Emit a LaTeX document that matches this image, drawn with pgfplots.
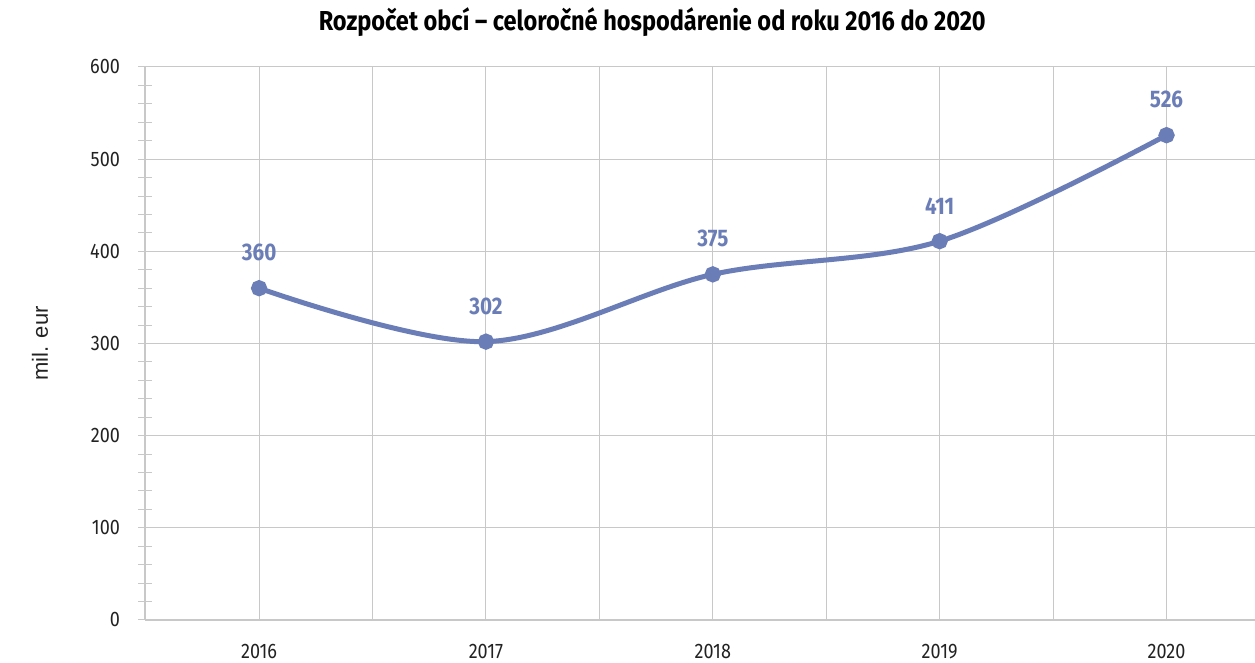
\documentclass[border=0pt]{standalone}
\usepackage{pgfplots}
\pgfplotsset{compat=1.18}
\usepackage{fontspec}
\setmainfont{Fira Sans}[FakeStretch=0.86]
\newfontfamily\labelfont{Liberation Sans}
\definecolor{serie}{HTML}{6A7DB6}
\definecolor{gridc}{HTML}{C8C8C8}
\definecolor{txt}{HTML}{222222}
\begin{document}
\begin{tikzpicture}
\useasboundingbox (-72.5pt,-21.5pt) rectangle (555pt,310pt);
\begin{axis}[
  at={(0,0)}, anchor=south west,
  scale only axis, width=555pt, height=276.5pt,
  xmin=-0.503, xmax=4.39, ymin=0, ymax=600,
  axis x line*=bottom, axis y line*=left,
  axis line style={-, draw=gridc, line width=0.6pt},
  xtick={0,1,2,3,4},
  xticklabels={2016,2017,2018,2019,2020},
  minor xtick={0.5,1.5,2.5,3.5},
  ytick={0,100,...,600},
  minor ytick={20,40,60,80,120,140,160,180,220,240,260,280,320,340,360,380,420,440,460,480,520,540,560,580},
  xmajorgrids, xminorgrids, ymajorgrids,
  grid style={draw=gridc, line width=0.5pt},
  minor grid style={draw=gridc, line width=0.5pt},
  x tick style={draw=none},
  minor x tick style={draw=none},
  y tick style={draw=gridc, line width=0.5pt},
  tick align=center,
  major tick length=7pt, minor tick length=7pt,
  /pgf/number format/assume math mode=true,
  ticklabel style={font=\fontsize{10.5}{12}\selectfont, text=txt},
  yticklabel style={xshift=-5.5pt},
  xticklabel style={yshift=-5pt},
  clip=false,
  nodes near coords,
  every node near coord/.style={font=\bfseries\fontsize{12}{14}\selectfont, text=serie, anchor=south, yshift=9pt},
]
\addplot[serie, line width=2.5pt, smooth, tension=0.55, mark=*, mark size=2.8pt, mark options={fill=serie, draw=serie}]
  coordinates {(0,360) (1,302) (2,375) (3,411) (4,526)};
\node[font=\bfseries\fontsize{13.7}{16}\selectfont, text=black] at (rel axis cs:0.457,1.081) {Rozpočet obcí – celoročné hospodárenie od roku 2016 do 2020};
\node[font=\labelfont\fontsize{11}{12}\selectfont, text=txt, rotate=90] at (rel axis cs:0,0.5) [xshift=0pt, yshift=52.5pt] {mil. eur};
\end{axis}
\end{tikzpicture}
\end{document}
